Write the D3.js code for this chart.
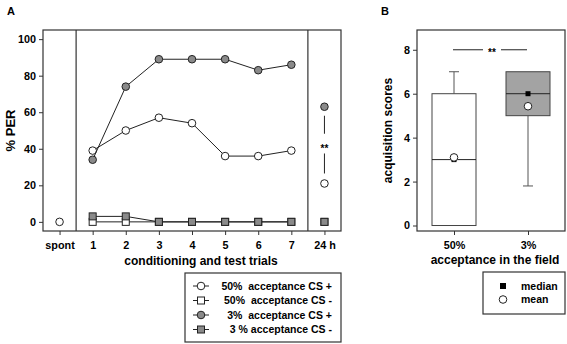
<html>
<head>
<script src="https://d3js.org/d3.v7.min.js"></script>
<style>
body { margin: 0; background: #fff; }
svg text { font-family: "Liberation Sans", Arial, sans-serif; font-weight: bold; fill: #000; }
.axis path, .axis line { stroke: #333; }
.axis text { font-size: 10.8px; }
</style>
</head>
<body>
<svg id="chart" width="567" height="344"></svg>
<script>
// panel A data
const trials = ["spont", "1", "2", "3", "4", "5", "6", "7", "24 h"];
const cs50plus = [0, 39, 50, 57, 54, 36, 36, 39, 21];
const cs50minus = [null, 0, 0, 0, 0, 0, 0, 0, 0];
const cs3plus = [null, 34, 74, 89, 89, 89, 83, 86, 63];
const cs3minus = [null, 3, 3, 0, 0, 0, 0, 0, 0];
const perTicks = [0, 20, 40, 60, 80, 100];
const legendA = ["50%  acceptance CS +", "50%  acceptance CS -", "3%  acceptance CS +", "3 % acceptance CS -"];

// panel B data
const groups = ["50%", "3%"];
const q1 = [0, 5];
const medians = [3, 6];
const q3 = [6, 7];
const whiskLow = [0, 1.8];
const whiskHigh = [7, 7];
const means = [3.1, 5.43];
const scoreTicks = [0, 2, 4, 6, 8];

const svg = d3.select('#chart');
const grey = '#8a8a8a';

// ---------- panel A ----------
const A = {left: 43, right: 341, top: 30, bottom: 231};
const x = d3.scaleLinear().domain([-0.5, 8.5]).range([A.left, A.right]);
const y = d3.scaleLinear().domain([-5, 105]).range([A.bottom, A.top]);

svg.append('g').attr('class', 'axis')
    .attr('transform', `translate(${A.left},0)`)
    .call(d3.axisLeft(y).tickValues(perTicks).tickSize(4).tickPadding(3))
    .call(g => g.select('.domain').remove());
svg.append('g').attr('class', 'axis')
    .attr('transform', `translate(0,${A.bottom})`)
    .call(d3.axisBottom(x).tickValues(d3.range(trials.length)).tickFormat(i => trials[i]).tickSize(4).tickPadding(6))
    .call(g => g.select('.domain').remove());

svg.append('rect').attr('x', A.left).attr('y', A.top)
    .attr('width', A.right - A.left).attr('height', A.bottom - A.top)
    .attr('fill', 'none').attr('stroke', '#333').attr('stroke-width', 1.2);
[0.5, 7.5].forEach(v => {
    svg.append('line').attr('x1', x(v)).attr('x2', x(v))
        .attr('y1', A.top).attr('y2', A.bottom)
        .attr('stroke', '#333').attr('stroke-width', 1.2);
});

const series = [
    {vals: cs50minus, shape: 'square', fill: '#fff'},
    {vals: cs3minus, shape: 'square', fill: grey},
    {vals: cs50plus, shape: 'circle', fill: '#fff'},
    {vals: cs3plus, shape: 'circle', fill: grey}
];

const line = d3.line().x(d => x(d.i)).y(d => y(d.v));
series.forEach(s => {
    const pts = s.vals.map((v, i) => ({i: i, v: v})).filter(d => d.v !== null);
    const trialPts = pts.filter(d => d.i >= 1 && d.i <= 7);
    svg.append('path').attr('d', line(trialPts))
        .attr('fill', 'none').attr('stroke', '#222').attr('stroke-width', 1);
    pts.forEach(d => {
        if (s.shape === 'circle') {
            svg.append('circle').attr('cx', x(d.i)).attr('cy', y(d.v)).attr('r', 3.8)
                .attr('fill', s.fill).attr('stroke', '#222').attr('stroke-width', 1);
        } else {
            svg.append('rect').attr('x', x(d.i) - 3.5).attr('y', y(d.v) - 3.5)
                .attr('width', 7).attr('height', 7)
                .attr('fill', s.fill).attr('stroke', '#222').attr('stroke-width', 1);
        }
    });
});

// significance at 24 h
svg.append('line').attr('x1', x(8)).attr('x2', x(8)).attr('y1', y(cs3plus[8]) + 9).attr('y2', y(cs3plus[8]) + 27)
    .attr('stroke', '#222');
svg.append('line').attr('x1', x(8)).attr('x2', x(8)).attr('y1', y(cs50plus[8]) - 30).attr('y2', y(cs50plus[8]) - 10)
    .attr('stroke', '#222');
svg.append('text').attr('x', x(8)).attr('y', (y(cs3plus[8]) + y(cs50plus[8])) / 2 + 7)
    .attr('text-anchor', 'middle').attr('font-size', 10).text('**');

svg.append('text').attr('x', 11).attr('y', 15).attr('text-anchor', 'middle')
    .attr('font-size', 11).text('A');
svg.append('text').attr('transform', `translate(15,${(A.top + A.bottom) / 2}) rotate(-90)`)
    .attr('text-anchor', 'middle').attr('font-size', 13).text('% PER');
svg.append('text').attr('x', 201).attr('y', 265).attr('text-anchor', 'middle')
    .attr('font-size', 12).text('conditioning and test trials');

// legend A
const LA = {x: 185, y: 273, w: 156, h: 69};
svg.append('rect').attr('x', LA.x).attr('y', LA.y).attr('width', LA.w).attr('height', LA.h)
    .attr('fill', '#fff').attr('stroke', '#333').attr('stroke-width', 1.2);
const legendSeries = [series[2], series[0], series[3], series[1]];
legendA.forEach((label, k) => {
    const s = legendSeries[k];
    const ly = 286 + k * 14.5;
    svg.append('line').attr('x1', 193).attr('x2', 209).attr('y1', ly).attr('y2', ly).attr('stroke', '#222');
    if (s.shape === 'circle') {
        svg.append('circle').attr('cx', 201).attr('cy', ly).attr('r', 3.8)
            .attr('fill', s.fill).attr('stroke', '#222');
    } else {
        svg.append('rect').attr('x', 197.5).attr('y', ly - 3.5).attr('width', 7).attr('height', 7)
            .attr('fill', s.fill).attr('stroke', '#222');
    }
    svg.append('text').attr('x', 332).attr('y', ly + 3.5).attr('text-anchor', 'end')
        .attr('font-size', 10.5).style('white-space', 'pre').text(label);
});

// ---------- panel B ----------
const B = {left: 417, right: 565, top: 30, bottom: 231};
const xb = d3.scalePoint().domain(groups).range([B.left, B.right]).padding(0.5);
const yb = d3.scaleLinear().domain([-0.25, 8.9]).range([B.bottom, B.top]);
const boxW = 44;

svg.append('g').attr('class', 'axis')
    .attr('transform', `translate(${B.left},0)`)
    .call(d3.axisLeft(yb).tickValues(scoreTicks).tickSize(4).tickPadding(3))
    .call(g => g.select('.domain').remove());
svg.append('g').attr('class', 'axis')
    .attr('transform', `translate(0,${B.bottom})`)
    .call(d3.axisBottom(xb).tickSize(4).tickPadding(6))
    .call(g => g.select('.domain').remove());

svg.append('rect').attr('x', B.left).attr('y', B.top)
    .attr('width', B.right - B.left).attr('height', B.bottom - B.top)
    .attr('fill', 'none').attr('stroke', '#333').attr('stroke-width', 1.2);

groups.forEach((g, i) => {
    const cx = xb(g);
    const fill = i === 0 ? '#fff' : '#a3a3a3';
    // whiskers
    if (whiskHigh[i] > q3[i]) {
        svg.append('line').attr('x1', cx).attr('x2', cx).attr('y1', yb(q3[i])).attr('y2', yb(whiskHigh[i])).attr('stroke', '#555');
        svg.append('line').attr('x1', cx - 5).attr('x2', cx + 5).attr('y1', yb(whiskHigh[i])).attr('y2', yb(whiskHigh[i])).attr('stroke', '#555');
    }
    if (whiskLow[i] < q1[i]) {
        svg.append('line').attr('x1', cx).attr('x2', cx).attr('y1', yb(q1[i])).attr('y2', yb(whiskLow[i])).attr('stroke', '#555');
        svg.append('line').attr('x1', cx - 5).attr('x2', cx + 5).attr('y1', yb(whiskLow[i])).attr('y2', yb(whiskLow[i])).attr('stroke', '#555');
    }
    svg.append('rect').attr('x', cx - boxW / 2).attr('y', yb(q3[i]))
        .attr('width', boxW).attr('height', yb(q1[i]) - yb(q3[i]))
        .attr('fill', fill).attr('stroke', '#444').attr('stroke-width', 1);
    svg.append('line').attr('x1', cx - boxW / 2).attr('x2', cx + boxW / 2)
        .attr('y1', yb(medians[i])).attr('y2', yb(medians[i])).attr('stroke', '#222');
    svg.append('rect').attr('x', cx - 2.5).attr('y', yb(medians[i]) - 2.5)
        .attr('width', 5).attr('height', 5).attr('fill', '#000');
    svg.append('circle').attr('cx', cx).attr('cy', yb(means[i])).attr('r', 3.8)
        .attr('fill', '#fff').attr('stroke', '#222');
});

// significance B
svg.append('line').attr('x1', 453).attr('x2', 483).attr('y1', yb(8)).attr('y2', yb(8)).attr('stroke', '#222');
svg.append('line').attr('x1', 501).attr('x2', 527).attr('y1', yb(8)).attr('y2', yb(8)).attr('stroke', '#222');
svg.append('text').attr('x', 492).attr('y', yb(8) + 6).attr('text-anchor', 'middle')
    .attr('font-size', 10).text('**');

svg.append('text').attr('x', 385).attr('y', 15).attr('text-anchor', 'middle')
    .attr('font-size', 11).text('B');
svg.append('text').attr('transform', `translate(392,${(B.top + B.bottom) / 2}) rotate(-90)`)
    .attr('text-anchor', 'middle').attr('font-size', 12).text('acquisition scores');
svg.append('text').attr('x', 495).attr('y', 264).attr('text-anchor', 'middle')
    .attr('font-size', 12).text('acceptance in the field');

// legend B
svg.append('rect').attr('x', 483).attr('y', 272).attr('width', 82).attr('height', 42)
    .attr('fill', '#fff').attr('stroke', '#333').attr('stroke-width', 1.2);
svg.append('rect').attr('x', 500).attr('y', 283).attr('width', 6).attr('height', 6).attr('fill', '#000');
svg.append('circle').attr('cx', 503).attr('cy', 299.5).attr('r', 3.8).attr('fill', '#fff').attr('stroke', '#222');
svg.append('text').attr('x', 521).attr('y', 289.5).attr('font-size', 10.5).text('median');
svg.append('text').attr('x', 521).attr('y', 303).attr('font-size', 10.5).text('mean');
</script>
</body>
</html>
